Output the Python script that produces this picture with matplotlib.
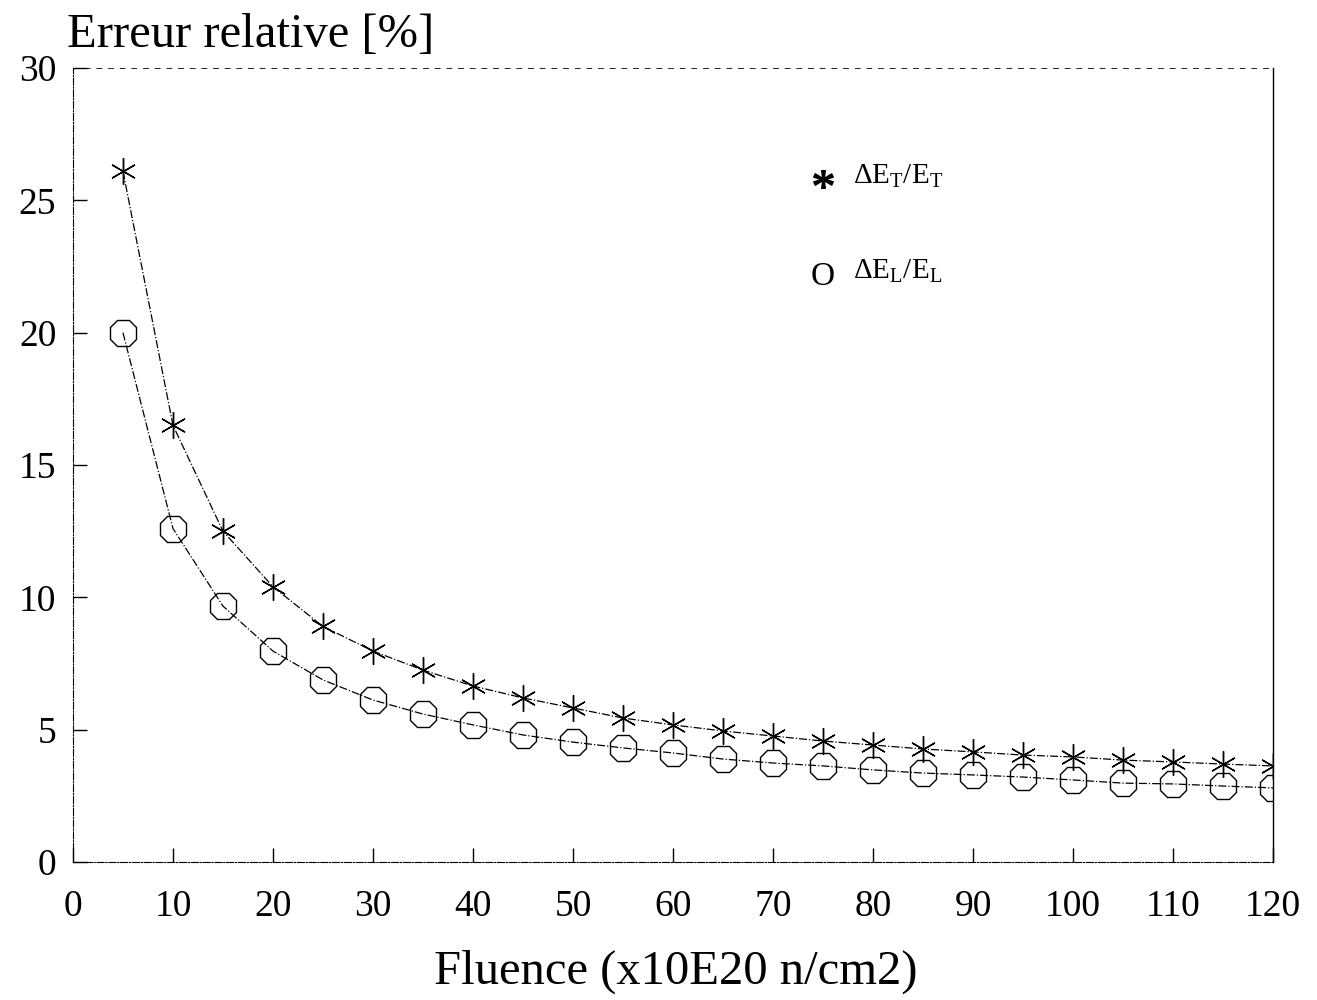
import matplotlib.pyplot as plt

plt.rcParams['font.family'] = ['Liberation Serif', 'DejaVu Serif']
plt.rcParams['mathtext.fontset'] = 'custom'
plt.rcParams['mathtext.rm'] = 'Liberation Serif'
plt.rcParams['mathtext.it'] = 'Liberation Serif'

# Data
fluence = [5, 10, 15, 20, 25, 30, 35, 40, 45, 50, 55, 60,
           65, 70, 75, 80, 85, 90, 95, 100, 105, 110, 115, 120]
err_T = [26.1, 16.5, 12.5, 10.4, 8.9, 7.97, 7.25, 6.65, 6.2, 5.82, 5.44, 5.18,
         4.95, 4.76, 4.57, 4.42, 4.27, 4.16, 4.04, 3.97, 3.85, 3.78, 3.7, 3.63]
err_L = [20.0, 12.6, 9.67, 7.97, 6.88, 6.12, 5.59, 5.18, 4.8, 4.53, 4.31, 4.12,
         3.89, 3.74, 3.63, 3.48, 3.36, 3.29, 3.21, 3.1, 2.98, 2.95, 2.87, 2.8]
xticks = list(range(0, 121, 10))
yticks = list(range(0, 31, 5))

fig = plt.figure(figsize=(13.17, 10), dpi=100)
ax = fig.add_axes([0.0554, 0.138, 0.9112, 0.794])

ax.plot(fluence, err_T, color='black', lw=0.9, ls='-.')
ax.plot(fluence, err_L, color='black', lw=0.9, ls='-.')
ax.plot(fluence, err_T, ls='none', marker=(6, 2, 0), ms=19, mew=1.0, color='black')
ax.plot(fluence, err_L, ls='none', marker='8', ms=21, mfc='none', mec='black', mew=1.0)

ax.set_xlim(0, 120)
ax.set_ylim(0, 30)
ax.set_xticks(xticks)
ax.set_yticks(yticks)
ax.tick_params(direction='in', length=10, width=1, labelsize=27, pad=20)
ax.tick_params(axis='y', pad=12)
ax.spines['top'].set_linestyle((0, (6, 8)))
ax.spines['top'].set_linewidth(0.6)
ax.spines['left'].set_linestyle('-.')
ax.spines['bottom'].set_linestyle('-.')
ax.spines['right'].set_linewidth(1.0)

fig.text(0.051, 0.953, 'Erreur relative [%]', fontsize=35, ha='left', va='baseline')
fig.text(0.513, 0.016, 'Fluence (x10E20 n/cm2)', fontsize=35, ha='center', va='baseline')

# legend drawn as text
ax.plot([75], [25.8], ls='none', marker='$*$', ms=14, color='black')
ax.text(78.0, 25.9, r'$\Delta$E$_\mathrm{T}$/E$_\mathrm{T}$', fontsize=21, va='center')
ax.text(75, 22.1, 'O', fontsize=24, ha='center', va='center')
ax.text(78.0, 22.3, r'$\Delta$E$_\mathrm{L}$/E$_\mathrm{L}$', fontsize=21, va='center')

fig.savefig('out.png', dpi=100)
